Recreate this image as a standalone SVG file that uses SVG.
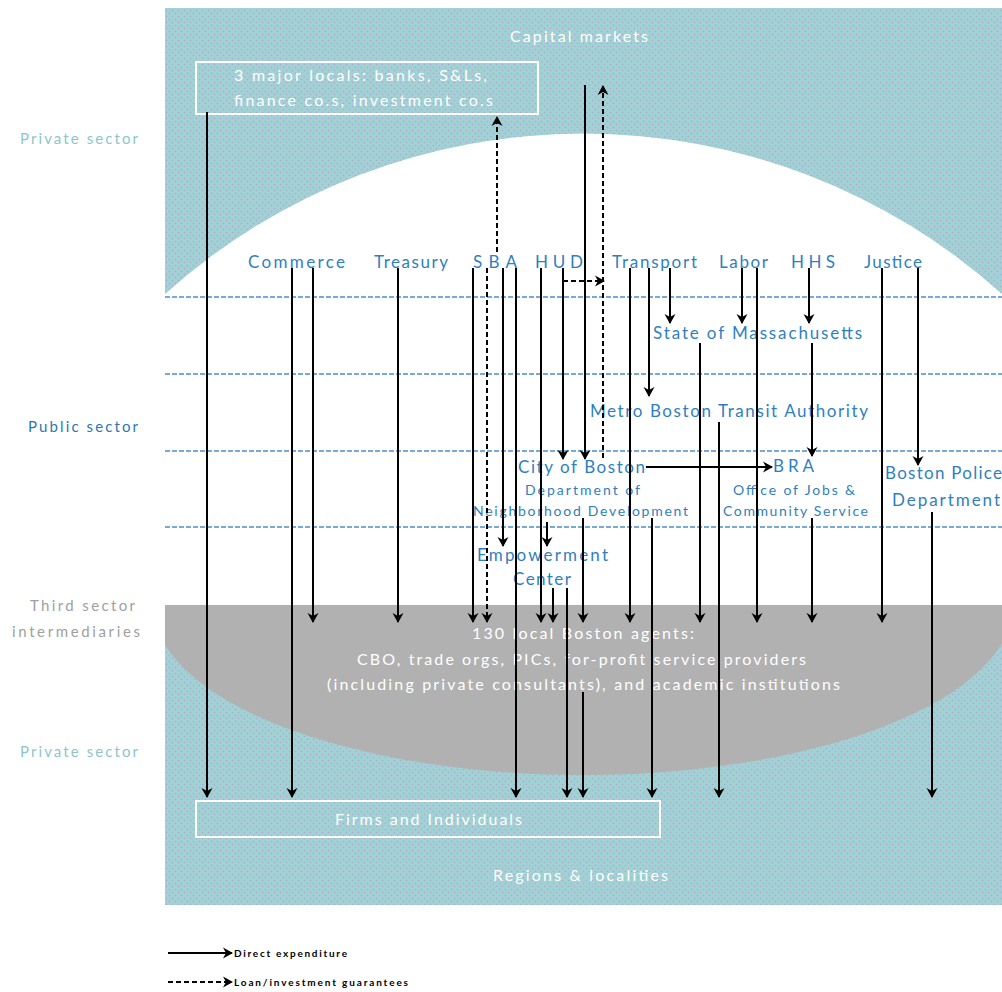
<svg xmlns="http://www.w3.org/2000/svg" width="1002" height="992" viewBox="0 0 1002 992">
<style>
text{font-family:Lato,"Open Sans","Liberation Sans",sans-serif}
.w{fill:#ffffff;font-size:16px}
.b{fill:#2f7fc0;font-size:17px}
.bs{fill:#2f7fc0;font-size:14px}
.side{font-size:15px}
.con{stroke:#000;stroke-width:2;fill:none;marker-end:url(#ah)}
.dash{stroke:#000;stroke-width:2;fill:none;stroke-dasharray:5 3;marker-end:url(#ah)}
.sep{stroke:#4a8fcc;stroke-width:1.5;stroke-dasharray:5 2}
.box{fill:none;stroke:#fff;stroke-width:2}
.leg{fill:#000;font-size:10px;font-weight:bold}
</style>
<defs>
<pattern id="dots" width="6" height="6" patternUnits="userSpaceOnUse">
<rect width="6" height="6" fill="#a1d1d2"/>
<circle cx="1.5" cy="1.5" r="0.7" fill="#a9a6d6"/>
<circle cx="4.5" cy="4.5" r="0.7" fill="#a9a6d6"/>
</pattern>
<clipPath id="clipBottom"><rect x="165" y="605" width="837" height="300"/></clipPath>
<marker id="ah" markerUnits="userSpaceOnUse" viewBox="-11 -7 13 14" refX="0" refY="0" markerWidth="13" markerHeight="14" orient="auto">
<path d="M1,0 L-9,-5.5 L-6,0 L-9,5.5 Z" fill="#000"/>
</marker>
</defs>

<g id="background">
<rect x="165" y="8" width="837" height="897" fill="#a1d1d2"/>
<rect x="165" y="8" width="837" height="897" fill="url(#dots)"/>
<path d="M165,294 A626,626 0 0 1 1002,294 L1002,605 L165,605 Z" fill="#ffffff"/>
<ellipse cx="583" cy="605" rx="430" ry="170" fill="#b1b1b1" clip-path="url(#clipBottom)"/>
</g>

<g id="separators">
<line class="sep" x1="165" y1="297" x2="1002" y2="297"/>
<line class="sep" x1="165" y1="374" x2="1002" y2="374"/>
<line class="sep" x1="165" y1="451" x2="1002" y2="451"/>
<line class="sep" x1="165" y1="527" x2="1002" y2="527"/>
</g>

<g id="sector-labels">
<text class="side" x="20" y="144" fill="#8cc6cc" textLength="118" lengthAdjust="spacing">Private sector</text>
<text class="side" x="28" y="432" fill="#2a77b5" textLength="110" lengthAdjust="spacing">Public sector</text>
<text class="side" x="30" y="611" fill="#a0a0a0" textLength="105" lengthAdjust="spacing">Third sector</text>
<text class="side" x="12" y="637" fill="#a0a0a0" textLength="128" lengthAdjust="spacing">intermediaries</text>
<text class="side" x="20" y="757" fill="#8cc6cc" textLength="118" lengthAdjust="spacing">Private sector</text>
</g>

<g id="capital-markets"><text class="w" x="510" y="42" textLength="138" lengthAdjust="spacing">Capital markets</text></g>

<g id="major-locals">
<rect class="box" x="196" y="62" width="342" height="52"/>
<text class="w" x="234" y="81" textLength="253" lengthAdjust="spacing">3 major locals: banks, S&amp;Ls,</text>
<text class="w" x="234" y="106" textLength="259" lengthAdjust="spacing">finance co.s, investment co.s</text>
</g>

<g id="commerce"><text class="b" x="248" y="268" textLength="97" lengthAdjust="spacing">Commerce</text></g>
<g id="treasury"><text class="b" x="374" y="268" textLength="74" lengthAdjust="spacing">Treasury</text></g>
<g id="sba"><text class="b" x="473" y="268" textLength="44" lengthAdjust="spacing">SBA</text></g>
<g id="hud"><text class="b" x="535" y="268" textLength="48" lengthAdjust="spacing">HUD</text></g>
<g id="transport"><text class="b" x="612" y="268" textLength="85" lengthAdjust="spacing">Transport</text></g>
<g id="labor"><text class="b" x="719" y="268" textLength="49" lengthAdjust="spacing">Labor</text></g>
<g id="hhs"><text class="b" x="791" y="268" textLength="44" lengthAdjust="spacing">HHS</text></g>
<g id="justice"><text class="b" x="864" y="268" textLength="58" lengthAdjust="spacing">Justice</text></g>

<g id="state-mass"><text class="b" x="653" y="339" textLength="209" lengthAdjust="spacing">State of Massachusetts</text></g>
<g id="mbta"><text class="b" x="590" y="417" textLength="278" lengthAdjust="spacing">Metro Boston Transit Authority</text></g>
<g id="city-boston">
<text class="b" x="518" y="473" textLength="127" lengthAdjust="spacing">City of Boston</text>
<text class="bs" x="525" y="495" textLength="115" lengthAdjust="spacing">Department of</text>
<text class="bs" x="473" y="516" textLength="215" lengthAdjust="spacing">Neighborhood Development</text>
</g>
<g id="bra">
<text class="b" x="773" y="472" textLength="41" lengthAdjust="spacing">BRA</text>
<text class="bs" x="733" y="495" textLength="122" lengthAdjust="spacing">Office of Jobs &amp;</text>
<text class="bs" x="723" y="516" textLength="145" lengthAdjust="spacing">Community Service</text>
</g>
<g id="police">
<text class="b" x="885" y="479" textLength="117" lengthAdjust="spacing">Boston Police</text>
<text class="b" x="892" y="506" textLength="108" lengthAdjust="spacing">Department</text>
</g>
<g id="empowerment">
<text class="b" x="477" y="561" textLength="131" lengthAdjust="spacing">Empowerment</text>
<text class="b" x="513" y="585" textLength="58" lengthAdjust="spacing">Center</text>
</g>

<g id="agents">
<text class="w" x="472" y="639" textLength="222" lengthAdjust="spacing">130 local Boston agents:</text>
<text class="w" x="357" y="665" textLength="449" lengthAdjust="spacing">CBO, trade orgs, PICs, for-profit service providers</text>
<text class="w" x="327" y="690" textLength="513" lengthAdjust="spacing">(including private consultants), and academic institutions</text>
</g>

<g id="firms">
<rect class="box" x="196" y="801" width="464" height="36"/>
<text class="w" x="335" y="825" textLength="187" lengthAdjust="spacing">Firms and Individuals</text>
</g>
<g id="regions"><text class="w" x="493" y="881" textLength="175" lengthAdjust="spacing">Regions &amp; localities</text></g>

<g id="connectors">
<line class="con" x1="207" y1="112" x2="207" y2="797"/>
<line class="con" x1="292" y1="268" x2="292" y2="797"/>
<line class="con" x1="313" y1="268" x2="313" y2="622"/>
<line class="con" x1="398" y1="268" x2="398" y2="622"/>
<line class="con" x1="473" y1="268" x2="473" y2="622"/>
<line class="con" x1="503" y1="268" x2="503" y2="546"/>
<line class="con" x1="516" y1="268" x2="516" y2="797"/>
<line class="con" x1="541" y1="268" x2="541" y2="622"/>
<line class="con" x1="563" y1="268" x2="563" y2="459"/>
<line class="con" x1="585" y1="85" x2="585" y2="459"/>
<line class="con" x1="630" y1="268" x2="630" y2="622"/>
<line class="con" x1="649" y1="268" x2="649" y2="396"/>
<line class="con" x1="670" y1="268" x2="670" y2="323"/>
<line class="con" x1="742" y1="268" x2="742" y2="323"/>
<line class="con" x1="757" y1="268" x2="757" y2="622"/>
<line class="con" x1="809" y1="268" x2="809" y2="323"/>
<line class="con" x1="882" y1="268" x2="882" y2="622"/>
<line class="con" x1="918" y1="268" x2="918" y2="465"/>
<line class="con" x1="700" y1="343" x2="700" y2="622"/>
<line class="con" x1="812" y1="343" x2="812" y2="456"/>
<line class="con" x1="719" y1="422" x2="719" y2="797"/>
<line class="con" x1="646" y1="467" x2="772" y2="467"/>
<line class="con" x1="547" y1="522" x2="547" y2="546"/>
<line class="con" x1="583" y1="518" x2="583" y2="622"/>
<line class="con" x1="652" y1="518" x2="652" y2="797"/>
<line class="con" x1="812" y1="518" x2="812" y2="622"/>
<line class="con" x1="932" y1="512" x2="932" y2="797"/>
<line class="con" x1="553" y1="588" x2="553" y2="622"/>
<line class="con" x1="567" y1="588" x2="567" y2="797"/>
<line class="con" x1="583" y1="692" x2="583" y2="797"/>
<line class="dash" x1="497" y1="252" x2="497" y2="117"/>
<line class="dash" x1="487" y1="268" x2="487" y2="622"/>
<line class="dash" x1="603" y1="458" x2="603" y2="86"/>
<line class="dash" x1="563" y1="281" x2="604" y2="281"/>
</g>

<g id="legend">
<line class="con" x1="168" y1="953" x2="232" y2="953"/>
<text class="leg" x="234" y="957" textLength="113" lengthAdjust="spacing">Direct expenditure</text>
<line class="dash" x1="168" y1="982" x2="232" y2="982"/>
<text class="leg" x="234" y="986" textLength="174" lengthAdjust="spacing">Loan/investment guarantees</text>
</g>
</svg>
